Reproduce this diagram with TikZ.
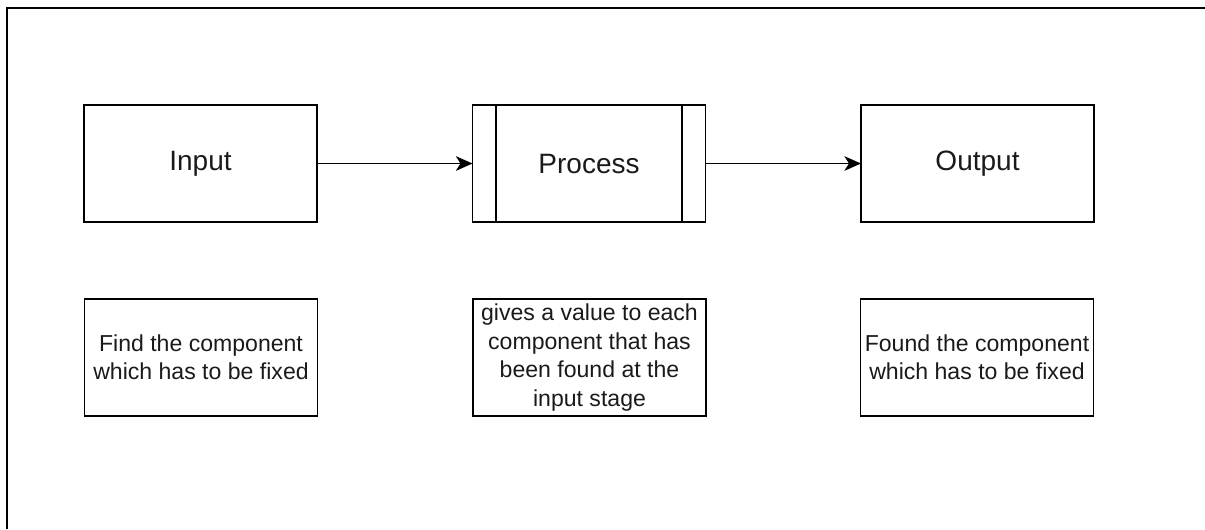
\documentclass[tikz,border=0pt]{standalone}
\usepackage{fontspec}
\setmainfont{Liberation Sans}
\usetikzlibrary{arrows.meta,calc}
\definecolor{txt}{HTML}{1A1A1A}
\begin{document}
\begin{tikzpicture}[x=0.75pt,y=-0.75pt,
  mainbox/.style={draw, line width=1.1pt, minimum width=174.75pt, minimum height=87.75pt,
    inner sep=0pt, outer sep=0pt, text=txt, font=\fontsize{21}{25}\selectfont},
  notebox/.style={draw, line width=1.1pt, minimum width=175pt, minimum height=87.75pt,
    inner sep=0pt, outer sep=0pt, align=center, text=txt, font=\fontsize{17.3}{21.3}\selectfont},
  flow/.style={line width=0.8pt, -{Stealth[length=12.5pt,width=11pt,inset=3.5pt]}},
  frame/.style={line width=1.6pt}]
\useasboundingbox (0,0) rectangle (1205,529);
\coordinate (ftr) at (1205,8);
\coordinate (ftl) at (7,8);
\coordinate (fbl) at (7,529);
\draw[frame] (ftr) -- (ftl) -- (fbl);
\node[mainbox] (in) at (200.5,163.5) {Input};
\node[mainbox] (pr) at (589,163.5) {Process};
\node[mainbox] (out) at (977.5,163.5) {Output};
\draw[line width=1.1pt] ($(pr.north west)+(23.5,0)$) -- ($(pr.south west)+(23.5,0)$);
\draw[line width=1.1pt] ($(pr.north east)+(-23.5,0)$) -- ($(pr.south east)+(-23.5,0)$);
\draw[flow] (in) -- (pr);
\draw[flow] (pr) -- (out);
\node[notebox] (tin) at (201,357.5) {Find the component\\which has to be fixed};
\node[notebox] (tpr) at (589.5,357.5) {gives a value to each\\component that has\\been found at the\\input stage};
\node[notebox] (tout) at (977,357.5) {Found the component\\which has to be fixed};
\end{tikzpicture}
\end{document}
